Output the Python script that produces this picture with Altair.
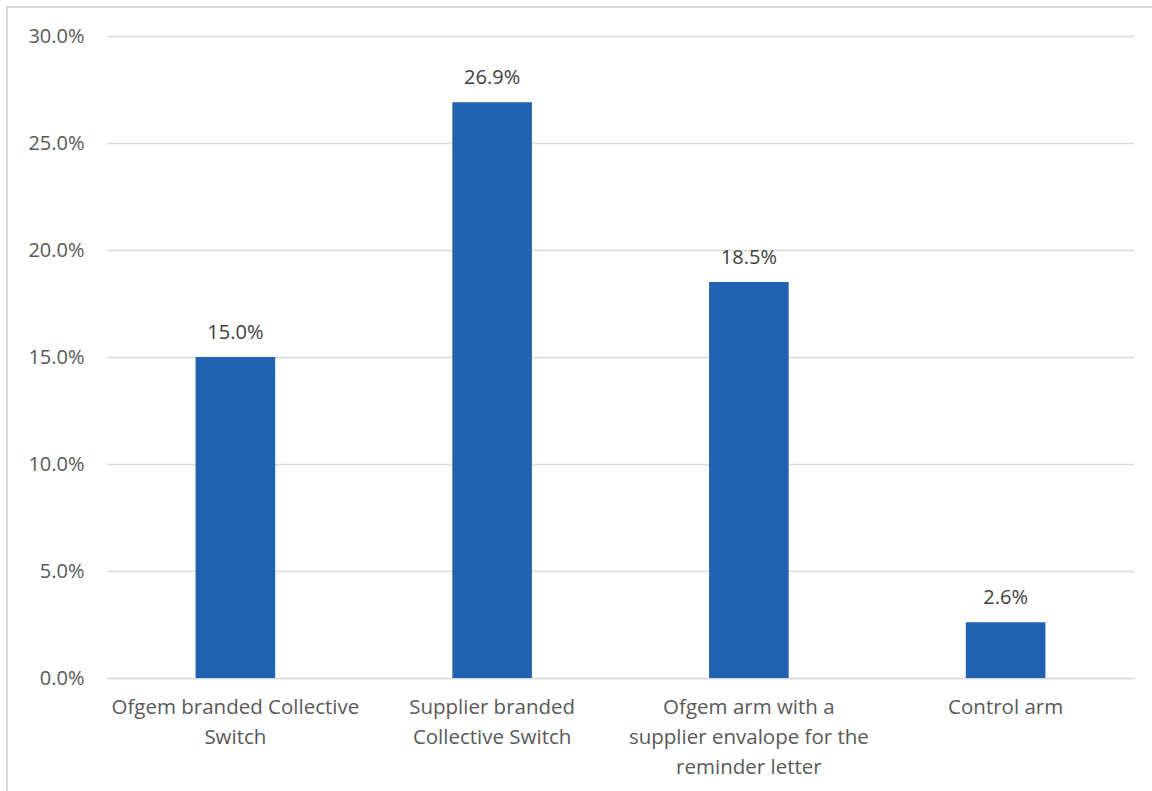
import altair as alt
import pandas as pd

categories = [
    "Ofgem branded Collective|Switch",
    "Supplier branded|Collective Switch",
    "Ofgem arm with a|supplier envalope for the|reminder letter",
    "Control arm",
]
rates = [0.150, 0.269, 0.185, 0.026]

df = pd.DataFrame({"arm": categories, "rate": rates})

FONT = "Open Sans"
GRID = "#d9d9d9"
TEXT = "#595959"
W, H = 1027, 642

x_enc = alt.X(
    "arm:N",
    sort=categories,
    scale=alt.Scale(paddingInner=0.69, paddingOuter=0.345),
    axis=alt.Axis(
        title=None,
        labelAngle=0,
        labelExpr="split(datum.label, '|')",
        labelFont=FONT,
        labelFontSize=20.5,
        labelColor=TEXT,
        labelLineHeight=30,
        labelBaseline="top",
        labelPadding=19,
        ticks=False,
        domain=True,
        domainColor=GRID,
        domainWidth=1.3,
        labelLimit=400,
    ),
)

y_enc = alt.Y(
    "rate:Q",
    scale=alt.Scale(domain=[0, 0.30]),
    axis=alt.Axis(
        title=None,
        format=".1%",
        values=[0, 0.05, 0.10, 0.15, 0.20, 0.25, 0.30],
        labelFont=FONT,
        labelFontSize=20,
        labelColor=TEXT,
        labelPadding=23,
        ticks=False,
        domain=False,
        grid=True,
        gridColor=GRID,
        gridWidth=1.3,
    ),
)

bars = alt.Chart(df).mark_bar(color="#2062af").encode(x=x_enc, y=y_enc)

labels = alt.Chart(df).mark_text(
    font=FONT, fontSize=20, color="#404040", baseline="alphabetic", dy=-18
).encode(
    x=alt.X("arm:N", sort=categories),
    y="rate:Q",
    text=alt.Text("rate:Q", format=".1%"),
)

# outer chart frame
frame = alt.Chart(df).mark_rect(
    filled=False, stroke=GRID, strokeWidth=2
).encode(
    x=alt.value(-100),
    x2=alt.value(W + 200),
    y=alt.value(-29),
    y2=alt.value(H + 200),
)

chart = (
    alt.layer(frame, bars, labels)
    .properties(
        width=W,
        height=H,
        background="white",
        autosize=alt.AutoSizeParams(type="none"),
        padding={"left": 107, "top": 36, "right": 18, "bottom": 113},
    )
    .configure_view(strokeWidth=0, stroke="transparent")
)

chart.save("out.html", embed_options={"renderer": "svg", "actions": False})
